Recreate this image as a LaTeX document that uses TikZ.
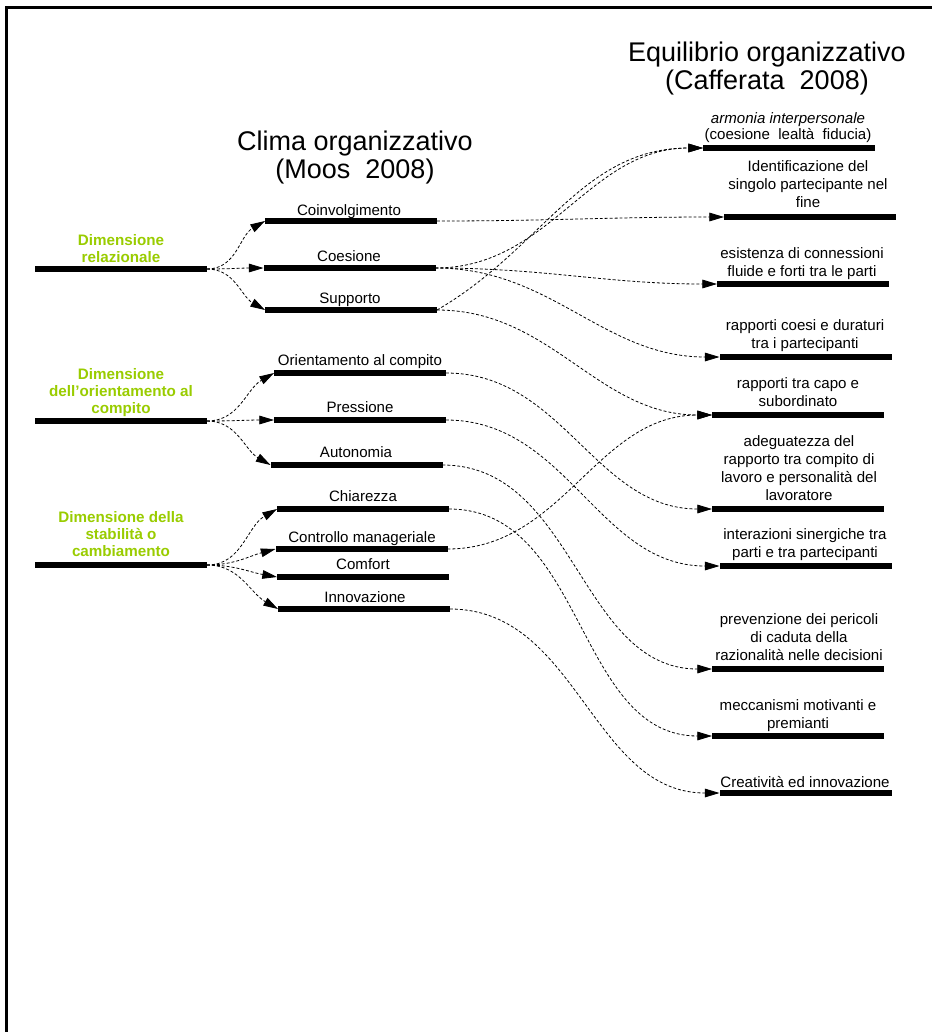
\documentclass[tikz,border=0pt]{standalone}
\usepackage{fontspec}
\setmainfont{Liberation Sans}
\usetikzlibrary{arrows.meta}
\definecolor{dimgreen}{RGB}{153,204,0}
\begin{document}
\begin{tikzpicture}[x=0.75pt,y=-0.75pt,
  bar/.style={fill=black,inner sep=0pt,outer sep=0pt,minimum width=129pt,minimum height=3.8pt},
  lbl/.style={anchor=base,inner sep=0pt,align=center,font={\fontsize{11.3}{13.5}\selectfont}},
  dim/.style={anchor=base,inner sep=0pt,align=center,text=dimgreen,font={\fontsize{11.4}{12.7}\selectfont\bfseries}},
  ttl/.style={anchor=base,inner sep=0pt,align=center,font={\fontsize{20.25}{20.5}\selectfont}},
  link/.style={draw,line width=0.6pt,dash pattern=on 2.2pt off 1.5pt,-{Triangle[length=11pt,width=6.5pt]}},
]
\useasboundingbox (0,0) rectangle (932,1032);
% frame (left and top edges only)
\draw[line width=1.6pt] (6.5,1032) -- (6.5,7.5) -- (932,7.5);

% titles (node base = baseline of the last line)
\node[ttl] (eqT) at (767,89) {Equilibrio organizzativo\\(Cafferata~~2008)};
\node[ttl] (clT) at (355,178) {Clima organizzativo\\(Moos~~2008)};

% left dimensions
\node[bar] (L1) at (121,269) {};
\node[bar] (L2) at (121,421) {};
\node[bar] (L3) at (121,565) {};
\node[dim] (t1) at (121,262) {Dimensione\\relazionale};
\node[dim] (t2) at (121,413) {Dimensione\\dell’orientamento al\\compito};
\node[dim] (t3) at (121,556) {Dimensione della\\stabilità o\\cambiamento};

% climate factors
\node[bar] (coin)  at (351,221) {};
\node[bar] (coes)  at (349.5,268) {};
\node[bar] (supp)  at (351,310) {};
\node[bar] (orient) at (360,373) {};
\node[bar] (press) at (360,420) {};
\node[bar] (auton) at (356.5,465) {};
\node[bar] (chiar) at (363,509) {};
\node[bar] (contr) at (361.5,549) {};
\node[bar] (comf)  at (363,577) {};
\node[bar] (innov) at (364,609) {};
\node[lbl] (tcoin)  at (349,215) {Coinvolgimento};
\node[lbl] (tcoes)  at (349,261) {Coesione};
\node[lbl] (tsupp)  at (350,303) {Supporto};
\node[lbl] (torient) at (360,365) {Orientamento al compito};
\node[lbl] (tpress) at (360,412) {Pressione};
\node[lbl] (tauton) at (356,457) {Autonomia};
\node[lbl] (tchiar) at (363,501) {Chiarezza};
\node[lbl] (tcontr) at (362,542) {Controllo manageriale};
\node[lbl] (tcomf)  at (363,569) {Comfort};
\node[lbl] (tinnov) at (365,602) {Innovazione};

% equilibrium factors
\node[bar] (armon) at (789,148) {};
\node[bar] (ident) at (810,217) {};
\node[bar] (esist) at (803,284) {};
\node[bar] (rcoes) at (805.5,357) {};
\node[bar] (rcapo) at (798,415) {};
\node[bar] (adeg)  at (798,509) {};
\node[bar] (inter) at (805.5,566) {};
\node[bar] (prev)  at (798,669) {};
\node[bar] (mecc)  at (798,736) {};
\node[bar] (creat) at (805.5,793) {};
\node[lbl,font={\fontsize{11.3}{11.3}\selectfont}] (tarmon) at (788,139) {\textit{armonia interpersonale}\\(coesione~~lealtà~~fiducia)};
\node[lbl] (tident) at (808,207) {Identificazione del\\singolo partecipante nel\\fine};
\node[lbl] (tesist) at (802,276) {esistenza di connessioni\\fluide e forti tra le parti};
\node[lbl] (trcoes) at (805,348) {rapporti coesi e duraturi\\tra i partecipanti};
\node[lbl] (trcapo) at (798,406) {rapporti tra capo e\\subordinato};
\node[lbl] (tadeg)  at (799,500) {adeguatezza del\\rapporto tra compito di\\lavoro e personalità del\\lavoratore};
\node[lbl] (tinter) at (805,557) {interazioni sinergiche tra\\parti e tra partecipanti};
\node[lbl] (tprev)  at (799,660) {prevenzione dei pericoli\\di caduta della\\razionalità nelle decisioni};
\node[lbl] (tmecc)  at (798,728) {meccanismi motivanti e\\premianti};
\node[lbl] (tcreat) at (805,787) {Creatività ed innovazione};

% fan-out from each dimension
\draw[link] (L1.east) to[out=0,in=210] (coin.west);
\draw[link] (L1.east) to[out=0,in=180] (coes.west);
\draw[link] (L1.east) to[out=0,in=150] (supp.west);
\draw[link] (L2.east) to[out=0,in=210] (orient.west);
\draw[link] (L2.east) to[out=0,in=180] (press.west);
\draw[link] (L2.east) to[out=0,in=150] (auton.west);
\draw[link] (L3.east) to[out=0,in=210] (chiar.west);
\draw[link] (L3.east) to[out=0,in=195] (contr.west);
\draw[link] (L3.east) to[out=0,in=170] (comf.west);
\draw[link] (L3.east) to[out=0,in=150] (innov.west);

% climate factor -> equilibrium factor
\draw[link] (coin.east) to[out=0,in=180] (ident.west);
\draw[link] (coes.east) to[out=0,in=180] (armon.west);
\draw[link] (coes.east) to[out=0,in=180] (esist.west);
\draw[link] (coes.east) to[out=0,in=180] (rcoes.west);
\draw[link] (supp.east) to[out=30,in=180] (armon.west);
\draw[link] (supp.east) to[out=0,in=180] (rcapo.west);
\draw[link] (orient.east) to[out=0,in=180] (adeg.west);
\draw[link] (press.east) to[out=0,in=180] (inter.west);
\draw[link] (auton.east) to[out=0,in=180] (prev.west);
\draw[link] (chiar.east) to[out=0,in=180] (mecc.west);
\draw[link] (contr.east) to[out=0,in=180] (rcapo.west);
\draw[link] (innov.east) to[out=0,in=180] (creat.west);
\end{tikzpicture}
\end{document}
